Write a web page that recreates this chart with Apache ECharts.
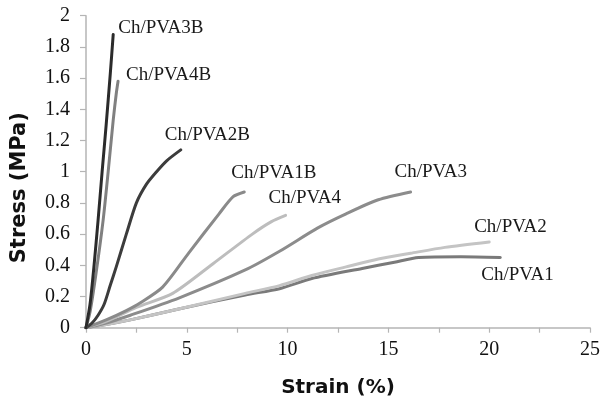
<!DOCTYPE html>
<html>
<head>
<meta charset="utf-8">
<script src="https://cdn.jsdelivr.net/npm/echarts@6/dist/echarts.min.js"></script>
<style>html,body{margin:0;padding:0;background:#fff}#c{width:603px;height:403px}</style>
</head>
<body>
<div id="c"></div>
<script>
// Series names
const seriesNames = ['Ch/PVA1', 'Ch/PVA2', 'Ch/PVA3', 'Ch/PVA4', 'Ch/PVA1B', 'Ch/PVA2B', 'Ch/PVA4B', 'Ch/PVA3B'];
// Strain (%) values
const strainPVA1  = [0, 1, 2.2, 4.6, 7.9, 9.6, 11.2, 13.7, 15.3, 16.5, 18.6, 20.55];
const strainPVA2  = [0, 1, 2.2, 4.6, 7.9, 9.6, 11.2, 12.9, 14.5, 16.1, 17.8, 20.0];
const strainPVA3  = [0, 1, 2.2, 4.6, 7.9, 9.6, 11.5, 12.9, 14.5, 16.1];
const strainPVA4  = [0, 1, 2.5, 4.3, 6.3, 8.25, 9.2, 9.9];
const strainPVA1B = [0, 1, 2.0, 2.7, 3.8, 5.1, 6.6, 7.3, 7.85];
const strainPVA2B = [0, 0.3, 0.6, 0.9, 1.2, 1.5, 2.0, 2.5, 3.0, 3.5, 4.0, 4.7];
const strainPVA4B = [0, 0.2, 0.5, 0.85, 1.1, 1.35, 1.5, 1.59];
const strainPVA3B = [0, 0.2, 0.4, 0.6, 0.8, 1.0, 1.2, 1.35];
// Stress (MPa) values
const stressPVA1  = [0, 0.02, 0.05, 0.12, 0.21, 0.25, 0.315, 0.38, 0.42, 0.45, 0.455, 0.45];
const stressPVA2  = [0, 0.02, 0.05, 0.12, 0.22, 0.27, 0.335, 0.39, 0.44, 0.477, 0.515, 0.55];
const stressPVA3  = [0, 0.03, 0.08, 0.19, 0.37, 0.49, 0.64, 0.73, 0.82, 0.87];
const stressPVA4  = [0, 0.04, 0.13, 0.22, 0.41, 0.6, 0.68, 0.72];
const stressPVA1B = [0, 0.05, 0.11, 0.16, 0.26, 0.48, 0.73, 0.84, 0.87];
const stressPVA2B = [0, 0.03, 0.08, 0.15, 0.27, 0.39, 0.6, 0.8, 0.92, 1.0, 1.07, 1.14];
const stressPVA4B = [0, 0.1, 0.35, 0.69, 1.0, 1.33, 1.5, 1.58];
const stressPVA3B = [0, 0.15, 0.4, 0.69, 1.0, 1.3, 1.62, 1.88];
// Axis ticks
const xTicks = [0, 5, 10, 15, 20, 25];
const yTicks = [0, 0.2, 0.4, 0.6, 0.8, 1, 1.2, 1.4, 1.6, 1.8, 2];

const strains = [strainPVA1, strainPVA2, strainPVA3, strainPVA4, strainPVA1B, strainPVA2B, strainPVA4B, strainPVA3B];
const stresses = [stressPVA1, stressPVA2, stressPVA3, stressPVA4, stressPVA1B, stressPVA2B, stressPVA4B, stressPVA3B];
const colors = ['#7a7a7a', '#c4c4c4', '#8c8c8c', '#bdbdbd', '#8a8a8a', '#3c3c3c', '#808080', '#2b2b2b'];
const labelPos = [[-19, 18], [-15, -15], [-16, -20], [-17, -17], [-13, -19], [-16, -15], [8, -6], [5, -6]];

const serif = '"Liberation Serif", "Times New Roman", serif';
const series = seriesNames.map((name, i) => {
  const xs = strains[i], ys = stresses[i];
  const data = xs.map((x, j) => [x, ys[j]]);
  const last = data[data.length - 1];
  return {
    name: name,
    type: 'line',
    data: data,
    smooth: 0.25,
    symbol: 'none',
    lineStyle: { color: colors[i], width: 3, cap: 'round', join: 'round' },
    z: 2,
    markPoint: {
      symbol: 'circle',
      symbolSize: 0,
      silent: true,
      data: [{ coord: last }],
      label: {
        show: true,
        formatter: name,
        position: labelPos[i],
        align: 'left',
        verticalAlign: 'middle',
        color: '#1a1a1a',
        fontFamily: serif,
        fontSize: 19
      }
    }
  };
});

const chart = echarts.init(document.getElementById('c'), null, { renderer: 'canvas' });
chart.setOption({
  animation: false,
  backgroundColor: '#ffffff',
  grid: { left: 86, right: 10, top: 15.7, bottom: 75.3, containLabel: false },
  xAxis: {
    type: 'value',
    min: xTicks[0], max: xTicks[xTicks.length - 1], interval: 2.5,
    name: 'Strain (%)', nameLocation: 'middle', nameGap: 50,
    nameTextStyle: { fontFamily: '"DejaVu Sans", sans-serif', fontWeight: 'bold', fontSize: 20, color: '#111' },
    axisLine: { show: true, lineStyle: { color: '#b5b5b5', width: 1.5 } },
    axisTick: { show: true, length: 5, lineStyle: { color: '#b5b5b5', width: 1.2 } },
    axisLabel: {
      margin: 12, fontFamily: serif, fontSize: 20, color: '#111',
      formatter: v => (xTicks.indexOf(v) >= 0 ? String(v) : '')
    },
    splitLine: { show: false }
  },
  yAxis: {
    type: 'value',
    min: yTicks[0], max: yTicks[yTicks.length - 1], interval: 0.2,
    name: 'Stress (MPa)', nameLocation: 'middle', nameGap: 56,
    nameTextStyle: { fontFamily: '"DejaVu Sans", sans-serif', fontWeight: 'bold', fontSize: 21, color: '#111', padding: [0, 32, 0, 0] },
    axisLine: { show: true, lineStyle: { color: '#b5b5b5', width: 1.5 } },
    axisTick: { show: true, length: 6, lineStyle: { color: '#b5b5b5', width: 1.2 } },
    axisLabel: {
      margin: 16, fontFamily: serif, fontSize: 20, color: '#111',
      formatter: v => String(Math.round(v * 10) / 10)
    },
    splitLine: { show: false }
  },
  series: series
});
</script>
</body>
</html>
